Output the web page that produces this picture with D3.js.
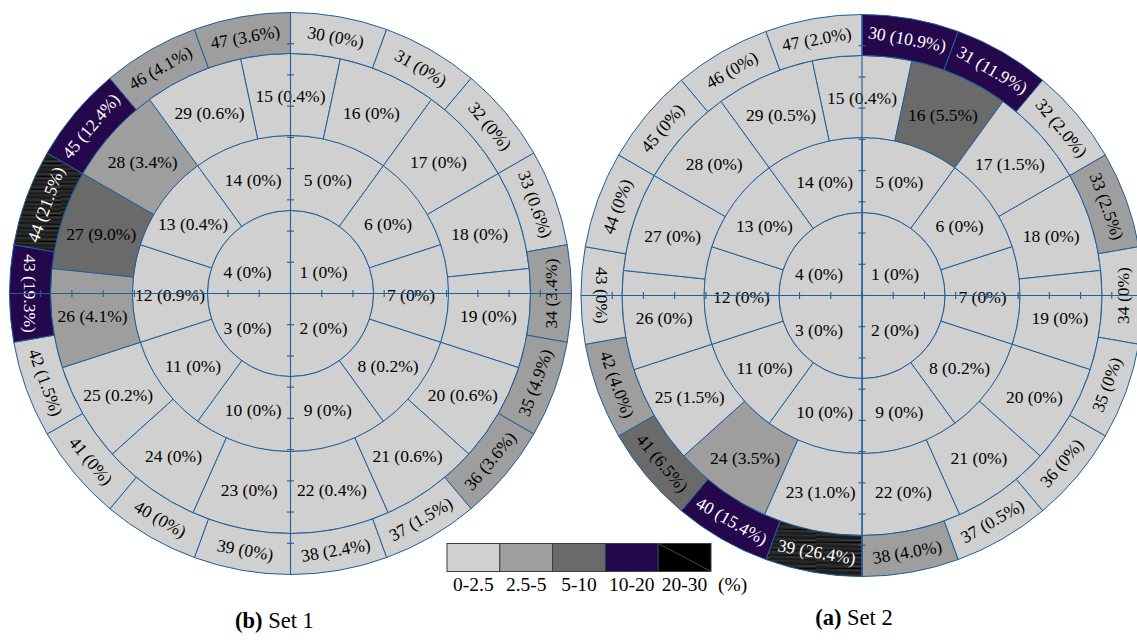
<!DOCTYPE html>
<html>
<head>
<meta charset="utf-8">
<script src="https://cdn.jsdelivr.net/npm/d3@7"></script>
<style>
  html, body { margin: 0; padding: 0; background: #fff; }
  svg { display: block; }
</style>
</head>
<body>
<svg id="chart" width="1137" height="643" font-family="'Liberation Serif', 'Times New Roman', Tinos, 'DejaVu Serif', serif"></svg>
<script>
// ---------------- data ----------------
const ringSectorCounts = [4, 10, 15, 18];
const ringFirstIds = [1, 5, 15, 30];

const set1Ring1 = [0, 0, 0, 0];
const set1Ring2 = [0, 0, 0, 0.2, 0, 0, 0, 0.9, 0.4, 0];
const set1Ring3 = [0.4, 0, 0, 0, 0, 0.6, 0.6, 0.4, 0, 0, 0.2, 4.1, 9.0, 3.4, 0.6];
const set1Ring4 = [0, 0, 0, 0.6, 3.4, 4.9, 3.6, 1.5, 2.4, 0, 0, 0, 1.5, 19.3, 21.5, 12.4, 4.1, 3.6];

const set2Ring1 = [0, 0, 0, 0];
const set2Ring2 = [0, 0, 0, 0.2, 0, 0, 0, 0, 0, 0];
const set2Ring3 = [0.4, 5.5, 1.5, 0, 0, 0, 0, 0, 1.0, 3.5, 1.5, 0, 0, 0, 0.5];
const set2Ring4 = [10.9, 11.9, 2.0, 2.5, 0, 0, 0, 0.5, 4.0, 26.4, 15.4, 6.5, 4.0, 0, 0, 0, 0, 2.0];

const binThresholds = [2.5, 5, 10, 20];
const binLabels = ["0-2.5", "2.5-5", "5-10", "10-20", "20-30"];
const unitLabel = "(%)";
const captions = [{ bold: "(b)", rest: " Set 1" }, { bold: "(a)", rest: " Set 2" }];

// ---------------- styling / layout ----------------
const binColors = ["#d0d0d0", "#9e9e9e", "#6a6a6a", "#25074c", "url(#hatch)"];
const textColors = ["#000", "#000", "#000", "#fff", "#fff"];
const lineColor = "#1f5f9a";
const radii = [0, 83, 158, 240, 281];
const ringOffsets = [0, 0, -0.5, 0]; // start offset in sector widths
const fontSize = 17.5;

const svg = d3.select("#chart");
const defs = svg.append("defs");
const hatch = defs.append("pattern")
  .attr("id", "hatch").attr("patternUnits", "userSpaceOnUse")
  .attr("width", 46).attr("height", 13);
hatch.append("rect").attr("width", 46).attr("height", 13).attr("fill", "#050505");
[[1.2, 1.8, 0.55], [3.6, 3.2, 0.35], [5.4, 5.9, 0.5], [7.9, 7.5, 0.3], [9.6, 10.3, 0.55], [11.8, 11.4, 0.35]]
  .forEach(([y1, y2, op]) => {
    hatch.append("line").attr("x1", 0).attr("x2", 46).attr("y1", y1).attr("y2", y2)
      .attr("stroke", "#fff").attr("stroke-width", 0.6).attr("stroke-opacity", op);
  });

const colorScale = d3.scaleThreshold().domain(binThresholds).range(binColors);
const textScale = d3.scaleThreshold().domain(binThresholds).range(textColors);
const fmt = v => v === 0 ? "0%" : d3.format(".1f")(v) + "%";
const deg = r => r * 180 / Math.PI;

function drawPolar(cx, cy, rings) {
  const g = svg.append("g").attr("transform", `translate(${cx},${cy})`);
  const arc = d3.arc();
  const sectors = [];
  rings.forEach((vals, ri) => {
    const n = ringSectorCounts[ri];
    const w = 2 * Math.PI / n;
    vals.forEach((v, i) => {
      const s = (i + ringOffsets[ri]) * w;
      sectors.push({
        ring: ri, id: ringFirstIds[ri] + i, value: v,
        innerRadius: radii[ri], outerRadius: radii[ri + 1],
        startAngle: s, endAngle: s + w, mid: s + w / 2
      });
    });
  });

  g.selectAll("path.sector").data(sectors).join("path")
    .attr("class", "sector")
    .attr("d", d => arc(d))
    .attr("fill", d => colorScale(d.value))
    .attr("stroke", lineColor).attr("stroke-width", 1);

  // labels
  g.selectAll("text.lab").data(sectors).join("text")
    .attr("class", "lab")
    .attr("text-anchor", "middle")
    .attr("dominant-baseline", "central")
    .attr("font-size", fontSize)
    .attr("fill", d => textScale(d.value))
    .attr("transform", d => {
      if (d.ring === 0) {
        const x = Math.sin(d.mid) * 53.7 - 5;
        const y = -Math.cos(d.mid) * 40 + 6.3;
        return `translate(${x},${y})`;
      }
      const r = (d.innerRadius + d.outerRadius) / 2;
      const x = Math.sin(d.mid) * r;
      const y = -Math.cos(d.mid) * r + (d.ring === 3 ? 0 : 1.5);
      if (d.ring === 3) {
        const a = deg(d.mid);
        const rot = a < 90 ? a : (a <= 270 ? a - 180 : a - 360);
        return `translate(${x},${y}) rotate(${rot})`;
      }
      return `translate(${x},${y})`;
    })
    .text(d => `${d.id} (${fmt(d.value)})`);

  // crosshair axes with ticks
  const R = radii[radii.length - 1];
  const tickScale = d3.scaleLinear().domain([-9, 9]).range([-R, R]);
  const tickVals = d3.range(-8, 9);
  const ax = g.append("g").attr("stroke", lineColor).attr("stroke-width", 1.1);
  ax.append("line").attr("x1", -R).attr("x2", R).attr("y1", 0).attr("y2", 0);
  ax.append("line").attr("y1", -R).attr("y2", R).attr("x1", 0).attr("x2", 0);
  ax.selectAll("line.tx").data(tickVals).join("line").attr("class", "tx")
    .attr("x1", d => tickScale(d)).attr("x2", d => tickScale(d)).attr("y1", -3.5).attr("y2", 3.5);
  ax.selectAll("line.ty").data(tickVals).join("line").attr("class", "ty")
    .attr("y1", d => tickScale(d)).attr("y2", d => tickScale(d)).attr("x1", -3.5).attr("x2", 3.5);
}

drawPolar(290.5, 293.5, [set1Ring1, set1Ring2, set1Ring3, set1Ring4]);
drawPolar(862, 295.5, [set2Ring1, set2Ring2, set2Ring3, set2Ring4]);

// ---------------- legend ----------------
const legX = d3.scaleBand().domain(binLabels).range([447, 711]).paddingInner(0);
const leg = svg.append("g");
leg.selectAll("rect").data(binLabels).join("rect")
  .attr("x", d => legX(d)).attr("y", 543.5)
  .attr("width", legX.bandwidth()).attr("height", 28)
  .attr("fill", (d, i) => i === 4 ? "#000" : binColors[i])
  .attr("stroke", "#3a3f48").attr("stroke-width", 1);
leg.append("line")
  .attr("x1", legX(binLabels[4])).attr("y1", 543.5)
  .attr("x2", legX(binLabels[4]) + legX.bandwidth()).attr("y2", 571.5)
  .attr("stroke", "#777").attr("stroke-width", 0.6);
leg.selectAll("text.bl").data(binLabels).join("text").attr("class", "bl")
  .attr("x", d => legX(d) + legX.bandwidth() / 2).attr("y", 591)
  .attr("text-anchor", "middle").attr("font-size", 19.5).attr("fill", "#000")
  .text(d => d);
leg.append("text").attr("x", 718).attr("y", 591).attr("font-size", 19.5).attr("fill", "#000").text(unitLabel);

// ---------------- captions ----------------
const capPos = [[274.5, 628], [854, 625]];
captions.forEach((c, i) => {
  const t = svg.append("text").attr("x", capPos[i][0]).attr("y", capPos[i][1])
    .attr("text-anchor", "middle").attr("font-size", 22.5).attr("fill", "#000");
  t.append("tspan").attr("font-weight", "bold").text(c.bold);
  t.append("tspan").text(c.rest);
});
</script>
</body>
</html>
